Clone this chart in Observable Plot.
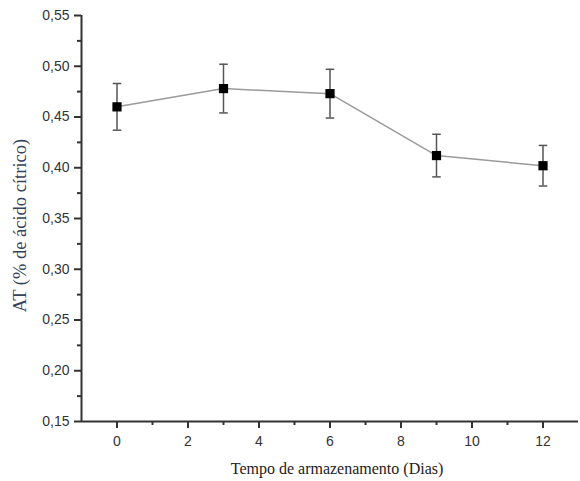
<!DOCTYPE html>
<html>
<head>
<meta charset="utf-8">
<script src="https://cdn.jsdelivr.net/npm/d3@7"></script>
<script src="https://cdn.jsdelivr.net/npm/@observablehq/plot@0.6"></script>
<style>
  html, body { margin: 0; padding: 0; background: #fff; }
  #chart svg { display: block; }
</style>
</head>
<body>
<div id="chart"></div>
<script>
// Data
const dias = [0, 3, 6, 9, 12];
const at = [0.460, 0.478, 0.473, 0.412, 0.402];
const erro = [0.023, 0.024, 0.024, 0.021, 0.020];

// Tick labels
const xTicks = [0, 2, 4, 6, 8, 10, 12];
const xMinor = [1, 3, 5, 7, 9, 11];
const yTicks = [0.15, 0.20, 0.25, 0.30, 0.35, 0.40, 0.45, 0.50, 0.55];
const yMinor = [0.175, 0.225, 0.275, 0.325, 0.375, 0.425, 0.475, 0.525];

const xLabel = "Tempo de armazenamento (Dias)";
const yLabel = "AT (% de ácido cítrico)";

const data = dias.map((d, i) => ({x: d, y: at[i], lo: at[i] - erro[i], hi: at[i] + erro[i]}));
const capW = 0.12;
const fmt = d => d.toFixed(2).replace(".", ",");

const plot = Plot.plot({
  width: 580,
  height: 481,
  marginLeft: 81,
  marginRight: 2,
  marginTop: 15,
  marginBottom: 60,
  style: {fontFamily: "'Liberation Sans', Arial, sans-serif", fontSize: "14px", color: "#333", background: "#fff"},
  x: {domain: [-1, 13], axis: null},
  y: {domain: [0.15, 0.55], axis: null},
  marks: [
    // axes lines
    Plot.ruleY([0.15], {stroke: "#333", strokeWidth: 2}),
    Plot.ruleX([-1], {stroke: "#333", strokeWidth: 2}),
    // major & minor ticks
    Plot.axisX({ticks: xTicks, tickSize: 7, tickPadding: 8, tickFormat: d => String(d), label: null, strokeWidth: 2}),
    Plot.axisX({ticks: xMinor, tickSize: 4, tickFormat: null, text: null, label: null, strokeWidth: 2}),
    Plot.axisY({ticks: yTicks, tickSize: 7, tickPadding: 5, tickFormat: fmt, label: null, strokeWidth: 2}),
    Plot.axisY({ticks: yMinor, tickSize: 4, tickFormat: null, text: null, label: null, strokeWidth: 2}),
    // connecting line
    Plot.line(data, {x: "x", y: "y", stroke: "#9a9a9a", strokeWidth: 1.5}),
    // error bars
    Plot.ruleX(data, {x: "x", y1: "lo", y2: "hi", stroke: "#555", strokeWidth: 1.5}),
    Plot.link(data, {x1: d => d.x - capW, x2: d => d.x + capW, y1: "hi", y2: "hi", stroke: "#555", strokeWidth: 1.5}),
    Plot.link(data, {x1: d => d.x - capW, x2: d => d.x + capW, y1: "lo", y2: "lo", stroke: "#555", strokeWidth: 1.5}),
    // markers
    Plot.dot(data, {x: "x", y: "y", symbol: "square", r: 5.2, fill: "#000", stroke: "none"}),
    // axis titles
    Plot.text([xLabel], {frameAnchor: "bottom", textAnchor: "middle", lineAnchor: "middle", dx: 7, dy: 47, fontFamily: "'Liberation Serif', 'Times New Roman', serif", fontSize: 16, fill: "#222"}),
    Plot.text([yLabel], {frameAnchor: "left", textAnchor: "middle", lineAnchor: "middle", rotate: -90, dx: -61, dy: 7, fontFamily: "'Liberation Serif', 'Times New Roman', serif", fontSize: 18.5, fill: "#34425c"})
  ]
});

document.getElementById("chart").appendChild(plot);
</script>
</body>
</html>
